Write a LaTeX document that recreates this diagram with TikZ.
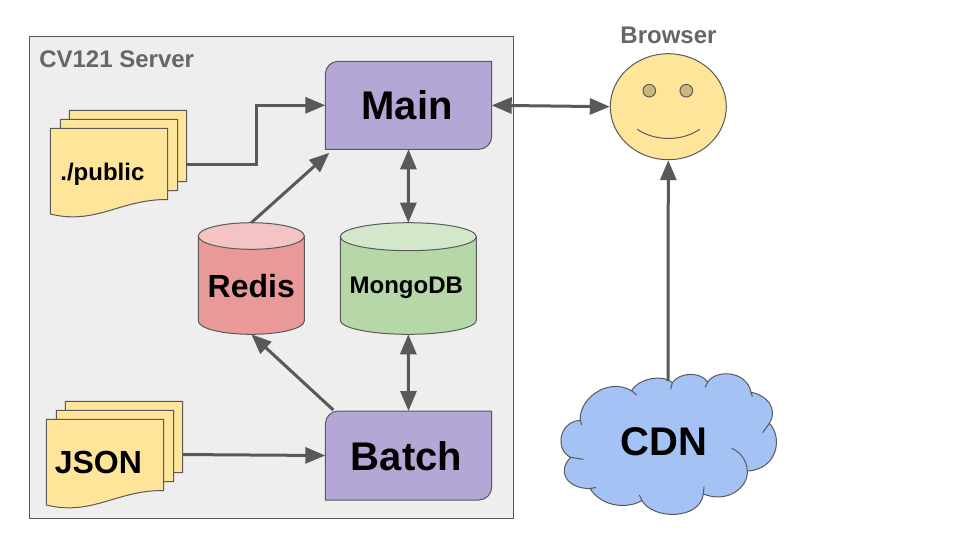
\documentclass[tikz,border=0pt]{standalone}
\usepackage{fontspec}
\setmainfont{Liberation Sans}
\usetikzlibrary{arrows.meta,shapes.geometric}
\definecolor{edge}{HTML}{595959}
\definecolor{wall}{HTML}{EEEEEE}
\definecolor{greytext}{HTML}{666666}
\definecolor{purplefill}{HTML}{B4A7D6}
\definecolor{yellowfill}{HTML}{FFE599}
\definecolor{bluefill}{HTML}{A4C2F4}
\definecolor{redfill}{HTML}{EA9999}
\definecolor{redtop}{HTML}{F4C3C3}
\definecolor{greenfill}{HTML}{B6D7A8}
\definecolor{greentop}{HTML}{D3E7CB}
\definecolor{eyefill}{HTML}{CCB77A}
\newcommand{\fsz}[1]{\fontsize{#1}{#1}\selectfont\bfseries}
\newcommand{\docsheet}[2]{\draw[outline,fill=yellowfill,shift={(#1,#2)}] (0,0) -- (117.4,0) -- (117.4,71.2) .. controls (70,70.8) and (46,97) .. (0,85.7) -- cycle;}
\tikzset{
  outline/.style={draw=edge,line width=.75pt},
  conn/.style={draw=edge,line width=2.25pt,-{Triangle[length=15pt,width=12pt]}},
  biconn/.style={draw=edge,line width=2.25pt,{Triangle[length=15pt,width=12pt]}-{Triangle[length=15pt,width=12pt]}},
  inset/.style={inner sep=0pt,outer sep=0pt,align=center},
  graylabel/.style={inset,text=greytext,font=\fsz{18}}
}
\begin{document}
\begin{tikzpicture}[x=.75pt,y=-.75pt]
\useasboundingbox (0,0) rectangle (960,540);
\fill[white] (0,0) rectangle (960,540);
% server
\draw[outline,fill=wall] (29.5,36) rectangle (513.5,518);
% documents
\docsheet{69.3}{110.3}
\docsheet{60.3}{119.3}
\docsheet{50.3}{128.3}
\docsheet{65.3}{401.3}
\docsheet{56.3}{410.3}
\docsheet{46.3}{419.3}
% process boxes
\draw[outline,fill=purplefill] (325.3,149.3) [rounded corners=9.75pt] -- (325.3,61.3) [sharp corners] -- (491.7,61.3) [rounded corners=9.75pt] -- (491.7,149.3) [sharp corners] -- cycle;
\draw[outline,fill=purplefill] (325.3,500) [rounded corners=9.75pt] -- (325.3,411) [sharp corners] -- (491.7,411) [rounded corners=9.75pt] -- (491.7,500) [sharp corners] -- cycle;
% cylinders
\draw[outline,fill=redfill] (198.3,236) -- (198.3,321) arc[start angle=180,end angle=0,x radius=53,y radius=13.3] -- (304.3,236) -- cycle;
\draw[outline,fill=redtop] (251.3,236) ellipse[x radius=53,y radius=13.3];
\draw[outline,fill=greenfill] (340.3,236.7) -- (340.3,320.3) arc[start angle=180,end angle=0,x radius=68,y radius=14] -- (476.3,236.7) -- cycle;
\draw[outline,fill=greentop] (408.3,236.7) ellipse[x radius=68,y radius=14];
% cloud
\begin{scope}[shift={(540,360)},x=.25pt,y=-.25pt]
\draw[outline,fill=bluefill] (121,181) .. controls (115,120) and (200,50) .. (275,92)
 .. controls (300,50) and (375,45) .. (397,68)
 .. controls (420,35) and (485,35) .. (503,67)
 .. controls (525,28) and (620,30) .. (633,97)
 .. controls (680,105) and (715,145) .. (688,190)
 .. controls (728,230) and (715,328) .. (622,333)
 .. controls (625,380) and (565,432) .. (490,402)
 .. controls (480,480) and (340,480) .. (306,422)
 .. controls (265,445) and (190,445) .. (150,386)
 .. controls (80,385) and (50,335) .. (92,292)
 .. controls (45,270) and (55,185) .. (121,181) -- cycle;
\draw[outline] (121,181) -- (125,195) (275,92) -- (290,105) (397,68) -- (392,88) (503,67) -- (495,82)
 (633,97) -- (637,110) (688,190) -- (668,218) (622,333) .. controls (620,300) and (600,275) .. (575,265)
 (490,402) -- (492,380) (306,422) -- (298,405) (150,386) -- (168,382) (92,292) -- (130,298);
\end{scope}
% nodes
\node[inset,minimum width=88.05pt,minimum height=64.3pt,text height=13.5pt,text depth=0pt,font=\fsz{18}] (public) at (109,171.2) {./public\hspace*{10pt}};
\node[inset,minimum width=88.05pt,minimum height=64.0pt,text height=17pt,text depth=0pt,font=\fsz{24}] (json) at (105,462) {JSON\hspace*{10pt}};
\node[inset,minimum width=124.8pt,minimum height=66pt,text height=22pt,text depth=0pt,font=\fsz{30}] (main) at (408.5,105.3) {Main\hspace*{2pt}};
\node[inset,minimum width=124.8pt,minimum height=66.75pt,text height=22pt,text depth=0pt,font=\fsz{30}] (batch) at (408.5,455.5) {Batch\hspace*{3pt}};
\node[inset,minimum width=79.5pt,minimum height=83.7pt,text height=27.75pt,text depth=0pt,font=\fsz{24}] (redis) at (251.3,278.5) {Redis};
\node[inset,minimum width=102pt,minimum height=83.7pt,text height=22.2pt,text depth=0pt,font=\fsz{18}] (mongo) at (408.3,278.5) {MongoDB\hspace*{3pt}};
\node[ellipse,draw=edge,line width=.75pt,fill=yellowfill,inner sep=0pt,minimum width=87pt,minimum height=79.5pt] (browser) at (668.3,106.7) {};
\draw[outline,fill=eyefill] (649.3,90.7) circle[radius=6.3];
\draw[outline,fill=eyefill] (686.3,90.7) circle[radius=6.3];
\draw[outline] (637.3,129.3) .. controls (655,141.5) and (682,141.5) .. (699.7,129.3);
\node[inset,minimum width=162pt,minimum height=105pt,text height=16.5pt,text depth=0pt,font=\fsz{30}] (cdn) at (668,444) {CDN\hspace*{6pt}};
\node[graylabel,anchor=base] (browserlabel) at (668.5,43.3) {Browser};
\node[graylabel,anchor=base west] (serverlabel) at (39.3,67.3) {CV121 Server};
% connectors
\coordinate (elbow) at (256.5,0);
\coordinate (pubout) at ([xshift=14.25pt,yshift=5.25pt]public.east);
\draw[conn] (pubout) -- (pubout -| elbow) -- (elbow |- main.west) -- (main.west);
\draw[conn] ([xshift=14.25pt,yshift=5.6pt]json.east) -- (batch.west);
\draw[biconn] (main.east) -- (browser.west);
\draw[biconn] (main.south) -- (mongo.north);
\draw[biconn] (mongo.south) -- (batch.north);
\draw[conn] (redis.north) -- ([xshift=3pt,yshift=-2.6pt]main.south west);
\draw[conn] ([xshift=6pt,yshift=.75pt]batch.north west) -- (redis.south);
\draw[conn] ([yshift=-5.25pt]cdn.north) -- (browser.south);
\end{tikzpicture}
\end{document}
